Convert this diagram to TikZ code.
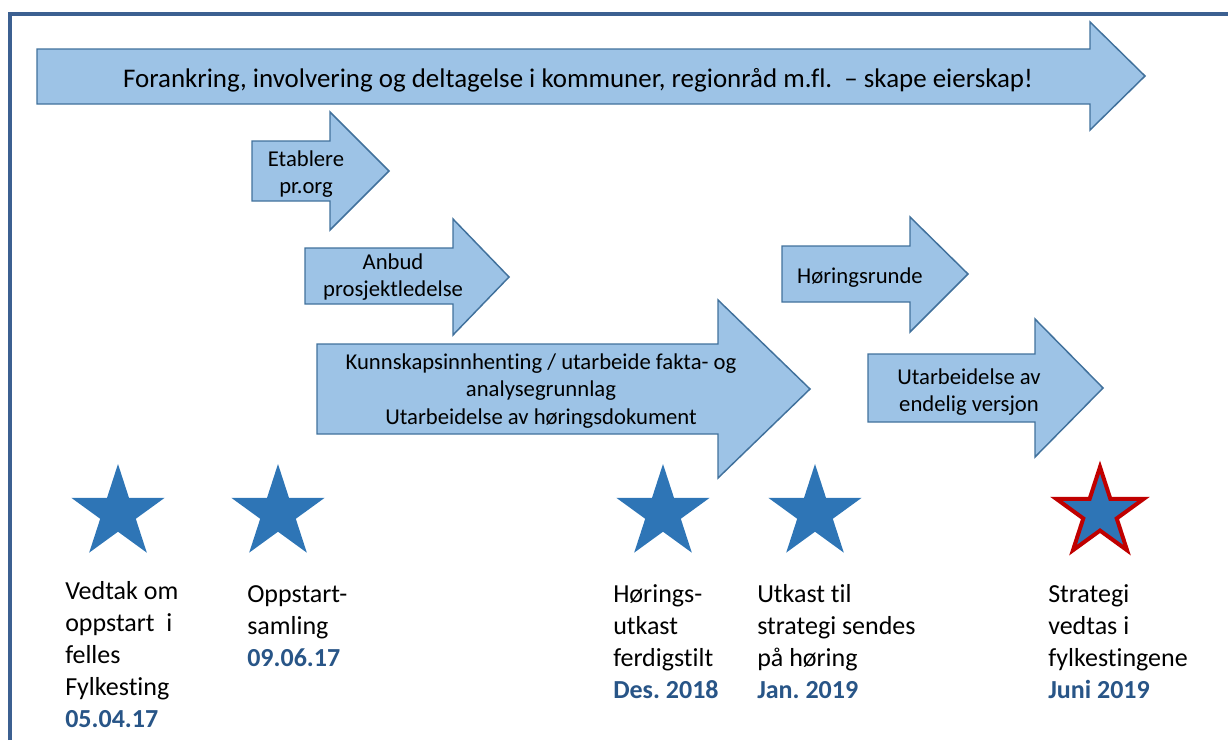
\documentclass[tikz,border=0pt]{standalone}
\usepackage{fontspec}
\setmainfont{Carlito}[Ligatures={NoCommon}]
\usetikzlibrary{shapes.geometric}

\definecolor{pilfyll}{RGB}{157,195,230}
\definecolor{pilkant}{RGB}{65,113,156}
\definecolor{stjernefyll}{RGB}{46,117,182}
\definecolor{stjernerod}{RGB}{192,0,0}
\definecolor{datoblaa}{RGB}{40,85,135}
\definecolor{rammeblaa}{RGB}{60,96,145}

\newcommand{\dato}[1]{\textcolor{datoblaa}{\bfseries #1}}
\frenchspacing

\tikzset{
  pil/.style={fill=pilfyll, draw=pilkant, line width=1.1pt, line join=miter},
  piltekst/.style={align=center, inner sep=0pt, font=\fontsize{17}{20.5}\selectfont},
  stjerne/.style={star, star points=5, star point ratio=2.618, minimum size=73.5pt,
                  inner sep=0pt, fill=stjernefyll},
  milepael/.style={align=left, anchor=base west, inner sep=0pt,
                   font=\fontsize{19.5}{24}\selectfont}
}

\begin{document}
\begin{tikzpicture}[x=0.75pt, y=-0.75pt]

    \useasboundingbox (0,0) rectangle (1228,740);

    %Ramme
    \draw[rammeblaa, line width=3pt] (10,740) -- (10,14) -- (1228,14);

    %Forankring
    \draw[pil] (37,49) -- (1090,49) -- (1090,22) -- (1145,76) -- (1090,130) -- (1090,104) -- (37,104) -- cycle;
    \node[piltekst, font=\fontsize{20.2}{24}\selectfont] (forankring) at (578,80)
        {Forankring, involvering og deltagelse i kommuner, regionråd m.fl.\ \ – skape eierskap!};

    %Etablere pr.org
    \draw[pil] (252,141) -- (330,141) -- (330,112) -- (389,171) -- (330,230) -- (330,201) -- (252,201) -- cycle;
    \node[piltekst] (etablere) at (306,174) {Etablere\\pr.org};

    %Anbud
    \draw[pil] (305,248) -- (453,248) -- (453,219) -- (509,277) -- (453,335) -- (453,304) -- (305,304) -- cycle;
    \node[piltekst] (anbud) at (393,277) {Anbud\\prosjektledelse};

    %Kunnskapsinnhenting
    \draw[pil] (317,344) -- (718,344) -- (718,300) -- (810,389) -- (718,478) -- (718,434) -- (317,434) -- cycle;
    \node[piltekst] (kunnskap) at (541,391)
        {Kunnskapsinnhenting / utarbeide fakta- og\\analysegrunnlag\\Utarbeidelse av høringsdokument};

    %Høringsrunde
    \draw[pil] (782,246) -- (910,246) -- (910,217) -- (968,274) -- (910,332) -- (910,302) -- (782,302) -- cycle;
    \node[piltekst] (horing) at (860,278) {Høringsrunde};

    %Endelig versjon
    \draw[pil] (868,354) -- (1035,354) -- (1035,319) -- (1103,388) -- (1035,457) -- (1035,422) -- (868,422) -- cycle;
    \node[piltekst] (endelig) at (969,392) {Utarbeidelse av\\endelig versjon};

    %Milepæler
    \node[stjerne] (s1) at (118,513) {};
    \node[stjerne] (s2) at (278,513) {};
    \node[stjerne] (s3) at (663,513) {};
    \node[stjerne] (s4) at (815,513) {};
    \node[stjerne, minimum size=69pt, draw=stjernerod, line width=3pt, line join=miter] (s5) at (1100,513) {};

    %Tekst under stjernene (base = siste linje)
    \node[milepael] (t1) at (65,727) {Vedtak om\\oppstart\ \ i\\felles\\Fylkesting\\\dato{05.04.17}};
    \node[milepael] (t2) at (247,666) {Oppstart-\\samling\\\dato{09.06.17}};
    \node[milepael] (t3) at (613,698) {Hørings-\\utkast\\ferdigstilt\\\dato{Des. 2018}};
    \node[milepael] (t4) at (757,698) {Utkast til\\strategi sendes\\på høring\\\dato{Jan. 2019}};
    \node[milepael] (t5) at (1048,698) {Strategi\\vedtas i\\fylkestingene\\\dato{Juni 2019}};

\end{tikzpicture}
\end{document}
